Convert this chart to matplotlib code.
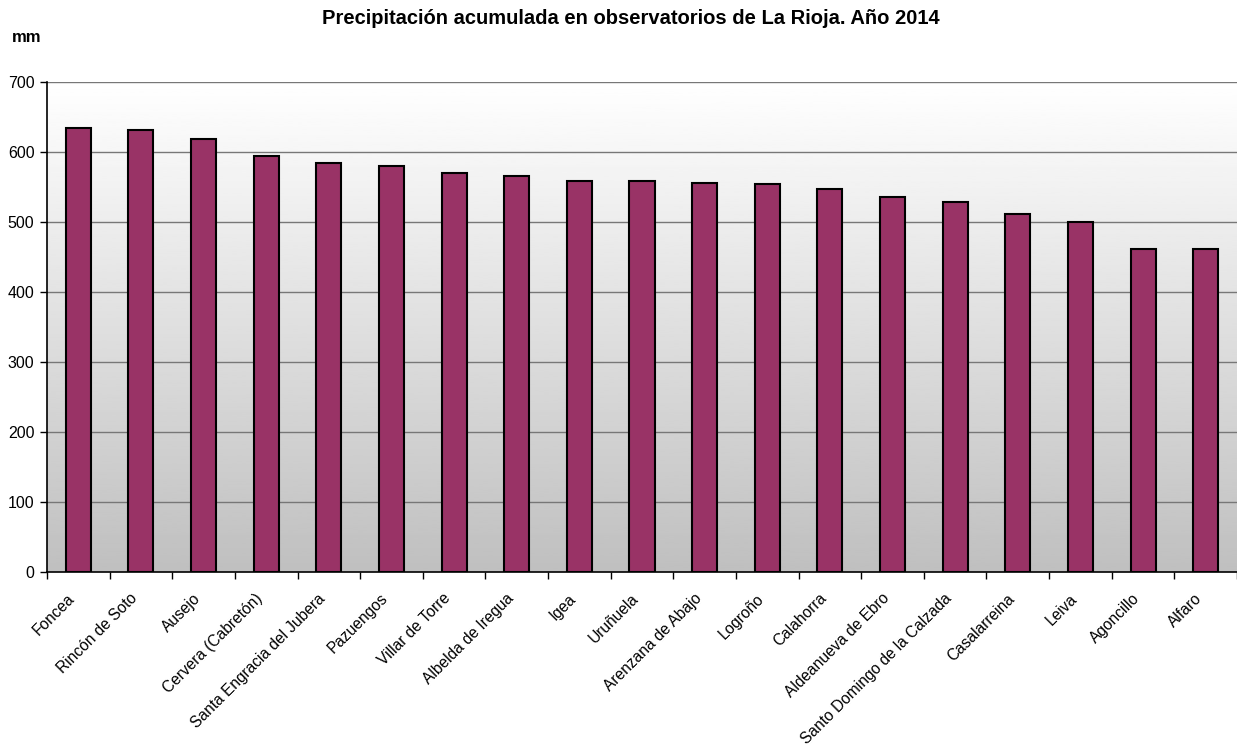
import numpy as np
import matplotlib
matplotlib.use("Agg")
import matplotlib.pyplot as plt
import matplotlib.transforms as mtrans

plt.rcParams["font.family"] = ["Liberation Sans", "DejaVu Sans"]

# ── data ────────────────────────────────────────────
stations = ["Foncea", "Rincón de Soto", "Ausejo", "Cervera (Cabretón)",
            "Santa Engracia del Jubera", "Pazuengos", "Villar de Torre",
            "Albelda de Iregua", "Igea", "Uruñuela", "Arenzana de Abajo",
            "Logroño", "Calahorra", "Aldeanueva de Ebro",
            "Santo Domingo de la Calzada", "Casalarreina", "Leiva",
            "Agoncillo", "Alfaro"]
precip_mm = [635, 631, 618, 594, 585, 580, 570, 566, 559, 559,
             556, 555, 547, 536, 529, 512, 500, 462, 461]
y_ticks = [0, 100, 200, 300, 400, 500, 600, 700]

# ── figure ──────────────────────────────────────────
fig = plt.figure(figsize=(12.37, 7.49), dpi=100)
ax = fig.add_axes([47 / 1237, 1 - 572 / 749, 1 - 47 / 1237, (572 - 82) / 749])

n = len(stations)
x = np.arange(n)
ax.set_xlim(-0.5, n - 0.5)
ax.set_ylim(0, 700)

# gradient background: white at top to grey at bottom
grad = np.linspace(0.75, 1.0, 256).reshape(-1, 1)
ax.imshow(grad, cmap="gray", vmin=0, vmax=1, aspect="auto", origin="lower",
          extent=(-0.5, n - 0.5, 0, 700), zorder=0)

for yv in y_ticks[1:]:
    ax.axhline(yv, color="#777777", lw=1, zorder=1)

ax.bar(x, precip_mm, width=0.4, color="#993366", edgecolor="black",
       linewidth=1.5, zorder=3)

ax.set_yticks(y_ticks)
ax.tick_params(axis="y", labelsize=11.5, length=5, width=1, pad=4)

# ticks between categories, labels under the bars
ax.set_xticks(np.arange(-0.5, n, 1.0))
ax.set_xticklabels([])
ax.tick_params(axis="x", which="major", length=5, width=1)
ax.set_xticks(x, minor=True)
ax.set_xticklabels(stations, minor=True, rotation=45, ha="right",
                   rotation_mode="anchor", fontsize=11.2)
ax.tick_params(axis="x", which="minor", length=0, pad=15)
shift = mtrans.ScaledTranslation(-11 / 100, 2 / 100, fig.dpi_scale_trans)
for lbl in ax.get_xticklabels(minor=True):
    lbl.set_transform(lbl.get_transform() + shift)

for s in ["top", "right"]:
    ax.spines[s].set_visible(False)
ax.spines["left"].set_linewidth(1.2)
ax.spines["bottom"].set_linewidth(1.2)

fig.text(631 / 1237, 1 - 18 / 749, "Precipitación acumulada en observatorios de La Rioja. Año 2014",
         ha="center", va="center", fontsize=14.5, fontweight="bold")
fig.text(12 / 1237, 1 - 37 / 749, "mm", ha="left", va="center",
         fontsize=12, fontweight="bold")

fig.savefig("out.png", dpi=100)
